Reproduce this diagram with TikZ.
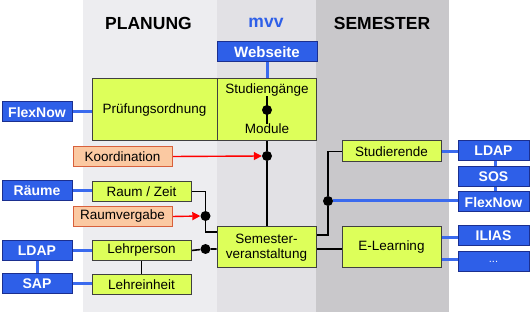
\documentclass[tikz,border=0pt]{standalone}
\usepackage{fontspec}
\setmainfont{Liberation Sans}
\usetikzlibrary{arrows.meta}
\pgfdeclarelayer{bands}
\pgfdeclarelayer{wires}
\pgfsetlayers{bands,wires,main}
\definecolor{limef}{HTML}{DDFF5A}
\definecolor{bluef}{HTML}{2E5FE8}
\definecolor{blued}{HTML}{1B2F8F}
\definecolor{bluel}{HTML}{3A6AEE}
\definecolor{orf}{HTML}{FBC9A2}
\definecolor{ord}{HTML}{D8603C}
\definecolor{bandA}{HTML}{EDEDF0}
\definecolor{bandB}{HTML}{E2E1E5}
\definecolor{bandC}{HTML}{C9C8CB}
\tikzset{
  txt/.style={font=\fontsize{13.5}{15}\selectfont, inner sep=0pt, align=center},
  limebox/.style={txt, draw=black!75, fill=limef, line width=1pt},
  bluebox/.style={txt, draw=blued, fill=bluef, line width=1pt, text=white, font=\fontsize{14}{16}\selectfont\bfseries, minimum width=70pt, minimum height=20pt},
  orbox/.style={txt, draw=ord, fill=orf, line width=1pt, minimum width=99pt, minimum height=20pt},
  bline/.style={draw=bluel, line width=3pt},
  kline/.style={draw=black, line width=1.6pt},
  rarrow/.style={draw=red, line width=1.4pt, -{Triangle[length=8pt,width=8pt]}},
  hdr/.style={font=\fontsize{17.5}{20}\selectfont\bfseries, inner sep=0pt},
  dotc/.style={circle, fill=black, inner sep=0pt, minimum size=10pt}
}
\begin{document}
\begin{tikzpicture}[x=1pt,y=-1pt]
\useasboundingbox (0,0) rectangle (530,312);
\begin{pgfonlayer}{bands}
\fill[white] (0,0) rectangle (530,312);
\fill[bandA] (83,0) rectangle (217,312);
\fill[bandB] (217,0) rectangle (316,312);
\fill[bandC] (316,0) rectangle (449,312);
\end{pgfonlayer}

\node[hdr] (hplan) at (148.5,23) {PLANUNG};
\node[hdr, text=bluef] (hmvv) at (266,23) {mvv};
\node[hdr] (hsem) at (382,23) {SEMESTER};

% nodes
\node[bluebox, minimum width=100pt, font=\fontsize{15}{17}\selectfont\bfseries] (web) at (267,52) {Webseite};
\node[limebox, minimum width=125pt, minimum height=62pt] (pruef) at (154.5,110) {Prüfungsordnung};
\node[limebox, minimum width=99pt, minimum height=62pt] (sg) at (266.5,110) {};
\node[txt] (sgt) at (267,90) {Studiengänge};
\node[txt] (modt) at (267,129) {Module};
\draw[kline] (sgt.south) -- (modt.north);
\node[dotc] (dsg) at (267,110) {};

\node[bluebox] (flexL) at (37,112) {FlexNow};
\node[orbox] (koord) at (122.5,156.5) {Koordination};
\node[dotc] (d1) at (267,156) {};

\node[bluebox] (raeume) at (37,191) {Räume};
\node[limebox, minimum width=99pt, minimum height=20pt] (rz) at (141.5,191.5) {Raum / Zeit};
\node[orbox] (rv) at (122.5,216.5) {Raumvergabe};
\node[dotc] (d2) at (205.5,216) {};

\node[limebox, minimum width=99pt, minimum height=41pt] (sv) at (266.5,247.5) {Semester-\\veranstaltung};

\node[bluebox] (ldapL) at (37,250.5) {LDAP};
\node[limebox, minimum width=99pt, minimum height=20pt] (lp) at (141.5,250.5) {Lehrperson};
\node[dotc] (d3) at (205.5,249) {};
\node[bluebox] (sap) at (37,284) {SAP};
\node[limebox, minimum width=99pt, minimum height=20pt] (le) at (141.5,284.5) {Lehreinheit};

\node[limebox, minimum width=99pt, minimum height=21pt] (stud) at (391.5,151.5) {Studierende};
\node[limebox, minimum width=99pt, minimum height=41pt] (el) at (391.5,247.5) {E-Learning};
\node[bluebox, minimum width=71pt] (ldapR) at (493.5,151) {LDAP};
\node[bluebox, minimum width=71pt] (sos) at (493.5,177) {SOS};
\node[bluebox, minimum width=71pt] (flexR) at (493.5,202) {FlexNow};
\node[bluebox, minimum width=71pt] (ilias) at (493.5,236) {ILIAS};
\node[bluebox, minimum width=71pt, font=\fontsize{11}{13}\selectfont] (more) at (493.5,262) {...};
\node[dotc] (d4) at (328,201) {};

\coordinate (rzc) at (205.5,191.5);
\coordinate (rzd) at (205.5,232);
\coordinate (stc) at (328,151.5);
\coordinate (ste) at (328,235);
\coordinate (eli) at (441.5,238);
\coordinate (elm) at (441.5,260);

% connectors
\begin{pgfonlayer}{wires}
\draw[bline] (web.south) -- (sg.north -| web.south);
\draw[bline] (flexL.east) -- (pruef.west |- flexL.east);
\draw[kline] (sg.south -| d1) -- (d1) -- (sv.north -| d1);
\draw[rarrow] (koord.east) -- (d1.west);

\draw[bline] (raeume.east) -- (rz.west |- raeume.east);
\draw[kline] (rz.east) -- (rzc) -- (d2) -- (rzd) -- (sv.west |- rzd);
\draw[rarrow] (rv.east) -- (d2.west);
\draw[kline] (lp.east) -- (d3) -- (sv.west |- d3);
\draw[bline] (ldapL.east) -- (lp.west |- ldapL.east);
\draw[bline] (sap.east) -- (le.west |- sap.east);
\draw[bline] (ldapL.south) -- (sap.north);
\draw[kline] (lp.south) -- (le.north);

\draw[kline] (stud.west) -- (stc) -- (d4) -- (ste) -- (sv.east |- ste);
\draw[bline] (d4) -- (flexR.west |- d4);
\draw[kline] (sv.east |- d3) -- (el.west |- d3);
\draw[bline] (stud.east) -- (ldapR.west |- stud.east);
\draw[bline] (ldapR.south -| 495,0) -- (sos.north -| 495,0);
\draw[bline] (sos.south -| 495,0) -- (flexR.north -| 495,0);
\draw[bline] (eli) -- (ilias.west |- eli);
\draw[bline] (elm) -- (more.west |- elm);
\end{pgfonlayer}
\end{tikzpicture}
\end{document}
